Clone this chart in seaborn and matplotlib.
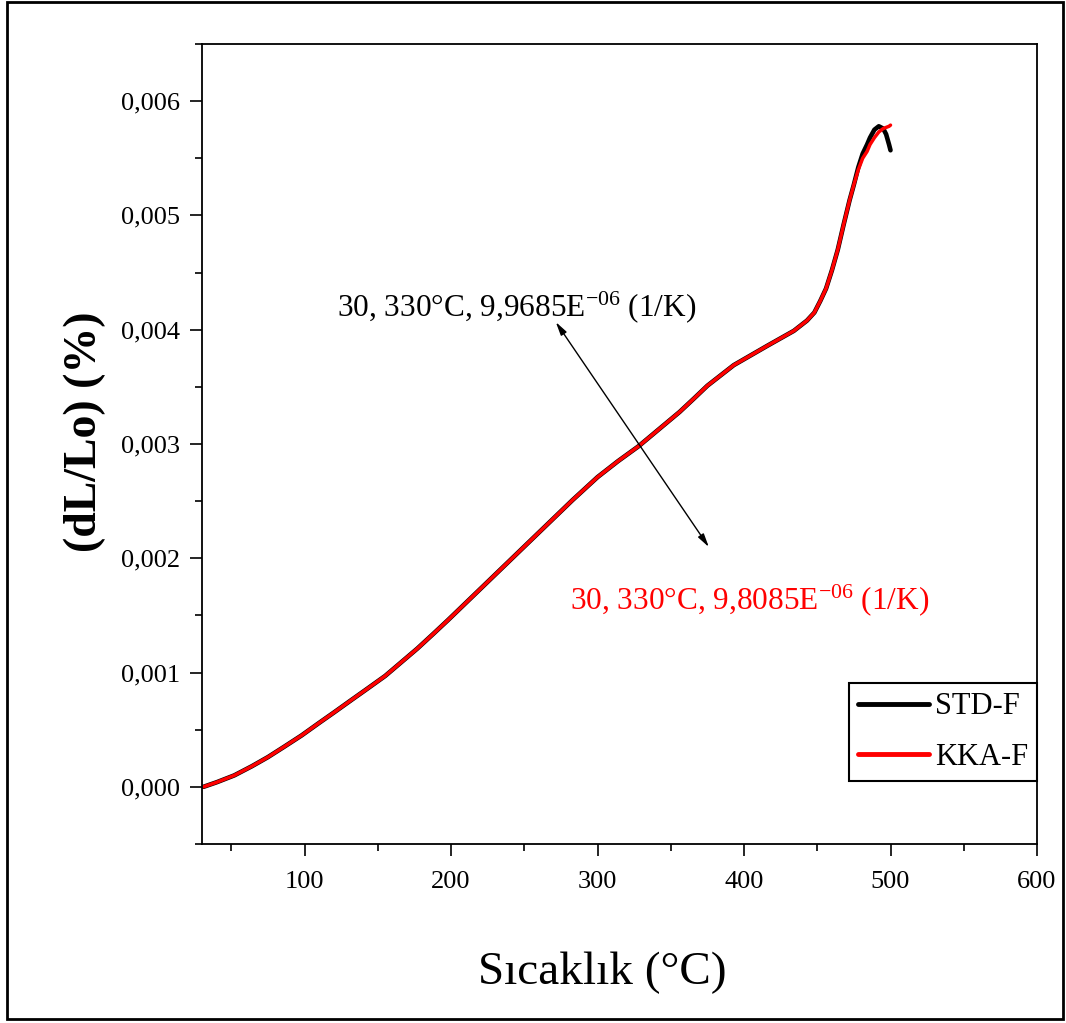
import numpy as np
import pandas as pd
import matplotlib
matplotlib.use('Agg')
import matplotlib.pyplot as plt
import matplotlib.ticker as mticker
from matplotlib.patches import Rectangle
import seaborn as sns

# --- data, dL/Lo in units of 1e-3 ---
temp = [31, 40, 52, 64, 75, 86, 98, 110, 120, 132, 143, 155, 166, 177, 188,
        198, 215, 232, 249, 266, 283, 300, 314, 328, 342, 356, 366, 375, 393,
        416, 434, 443, 448, 452, 456, 460, 464, 468, 472, 475, 478, 481, 484,
        486, 489, 492, 495, 497, 499, 500]
kka_f = [0.00, 0.04, 0.10, 0.18, 0.26, 0.35, 0.45, 0.56, 0.65, 0.76, 0.86,
         0.97, 1.09, 1.21, 1.34, 1.46, 1.67, 1.88, 2.09, 2.30, 2.51, 2.71,
         2.85, 2.98, 3.13, 3.28, 3.40, 3.51, 3.69, 3.86, 3.99, 4.08, 4.15,
         4.25, 4.36, 4.52, 4.70, 4.92, 5.13, 5.27, 5.40, 5.50, 5.56, 5.62,
         5.68, 5.73, 5.76, 5.77, 5.78, 5.79]
std_f = [0.00, 0.04, 0.10, 0.18, 0.26, 0.35, 0.45, 0.56, 0.65, 0.76, 0.86,
         0.97, 1.09, 1.21, 1.34, 1.46, 1.67, 1.88, 2.09, 2.30, 2.51, 2.71,
         2.85, 2.98, 3.13, 3.28, 3.40, 3.51, 3.69, 3.86, 3.99, 4.08, 4.15,
         4.25, 4.36, 4.52, 4.70, 4.92, 5.13, 5.27, 5.42, 5.54, 5.62, 5.68,
         5.75, 5.78, 5.76, 5.71, 5.62, 5.57]
series = ['STD-F', 'KKA-F']
colors = ['black', 'red']
note_std = r'30, 330°C, 9,9685E$^{-06}$ (1/K)'
note_kka = r'30, 330°C, 9,8085E$^{-06}$ (1/K)'

scale = 1e-3
df = pd.DataFrame({
    'T': temp * 2,
    'v': np.array(std_f + kka_f) * scale,
    'seri': [series[0]] * len(temp) + [series[1]] * len(temp),
})

sns.set_style('ticks')
plt.rcParams['font.family'] = ['Liberation Serif', 'DejaVu Serif']
plt.rcParams['mathtext.fontset'] = 'custom'
plt.rcParams['mathtext.rm'] = 'Liberation Serif'
plt.rcParams['mathtext.default'] = 'regular'
plt.rcParams['text.color'] = 'black'
plt.rcParams['axes.labelcolor'] = 'black'
plt.rcParams['xtick.color'] = 'black'
plt.rcParams['ytick.color'] = 'black'

fig = plt.figure(figsize=(10.66, 10.23), dpi=100)
ax = fig.add_axes([0.1895, 0.175, 0.7833, 0.782])

# --- curves ---
sns.lineplot(data=df[df.seri == series[0]], x='T', y='v', color=colors[0],
             lw=3.3, label=series[0], sort=False, estimator=None, ax=ax)
sns.lineplot(data=df[df.seri == series[1]], x='T', y='v', color=colors[1],
             lw=2.5, label=series[1], sort=False, estimator=None, ax=ax)

ax.set_xlim(30, 600)
ax.set_ylim(-0.0005, 0.0065)

# --- ticks ---
ax.xaxis.set_major_locator(mticker.MultipleLocator(100))
ax.xaxis.set_minor_locator(mticker.MultipleLocator(50))
ax.yaxis.set_major_locator(mticker.MultipleLocator(0.001))
ax.yaxis.set_minor_locator(mticker.MultipleLocator(0.0005))
ax.yaxis.set_major_formatter(
    mticker.FuncFormatter(lambda v, p: f'{v:.3f}'.replace('.', ',')))
ax.tick_params(which='major', direction='out', length=8.5, width=1.2,
               labelsize=19, top=False, right=False, colors='black')
ax.tick_params(which='minor', direction='out', length=5, width=1.2,
               top=False, right=False, colors='black')
ax.tick_params(axis='x', pad=11)
ax.tick_params(axis='y', pad=7)
for s in ax.spines.values():
    s.set_linewidth(1.3)
    s.set_color('black')

# --- labels ---
ax.set_xlabel('Sıcaklık (°C)', fontsize=34, color='black')
ax.xaxis.set_label_coords(0.479, -0.135)
ax.set_ylabel('(dL/Lo) (%)', fontsize=33, fontweight='bold', color='black')
ax.yaxis.set_label_coords(-0.115, 0.515)

# --- annotations ---
ax.annotate('', xy=(271.5, 0.004067), xytext=(376, 0.002098),
            arrowprops=dict(arrowstyle='<|-|>,head_length=0.8,head_width=0.2',
                            lw=1, color='black', shrinkA=0, shrinkB=0))
fig.text(337 / 1066, 1 - 307 / 1023, note_std, fontsize=22.5, color='black',
         va='center', ha='left')
fig.text(570 / 1066, 1 - 600 / 1023, note_kka, fontsize=22.5, color='red',
         va='center', ha='left')

# --- legend ---
leg = ax.legend(loc='lower right', bbox_to_anchor=(1.0, 0.079),
                fontsize=22, frameon=True, fancybox=False, handlelength=2.3,
                borderaxespad=0, handletextpad=0.2, borderpad=0.3,
                labelspacing=0.7)
leg.get_frame().set_edgecolor('black')
leg.get_frame().set_linewidth(1.5)
leg.get_frame().set_alpha(1)
for line in leg.get_lines():
    line.set_linewidth(3.5)

# --- outer frame ---
fig.patches.append(Rectangle((0.0066, 0.004), 0.9906, 0.994, fill=False,
                             lw=2, edgecolor='black',
                             transform=fig.transFigure, figure=fig))

fig.savefig('out.png', dpi=100)
